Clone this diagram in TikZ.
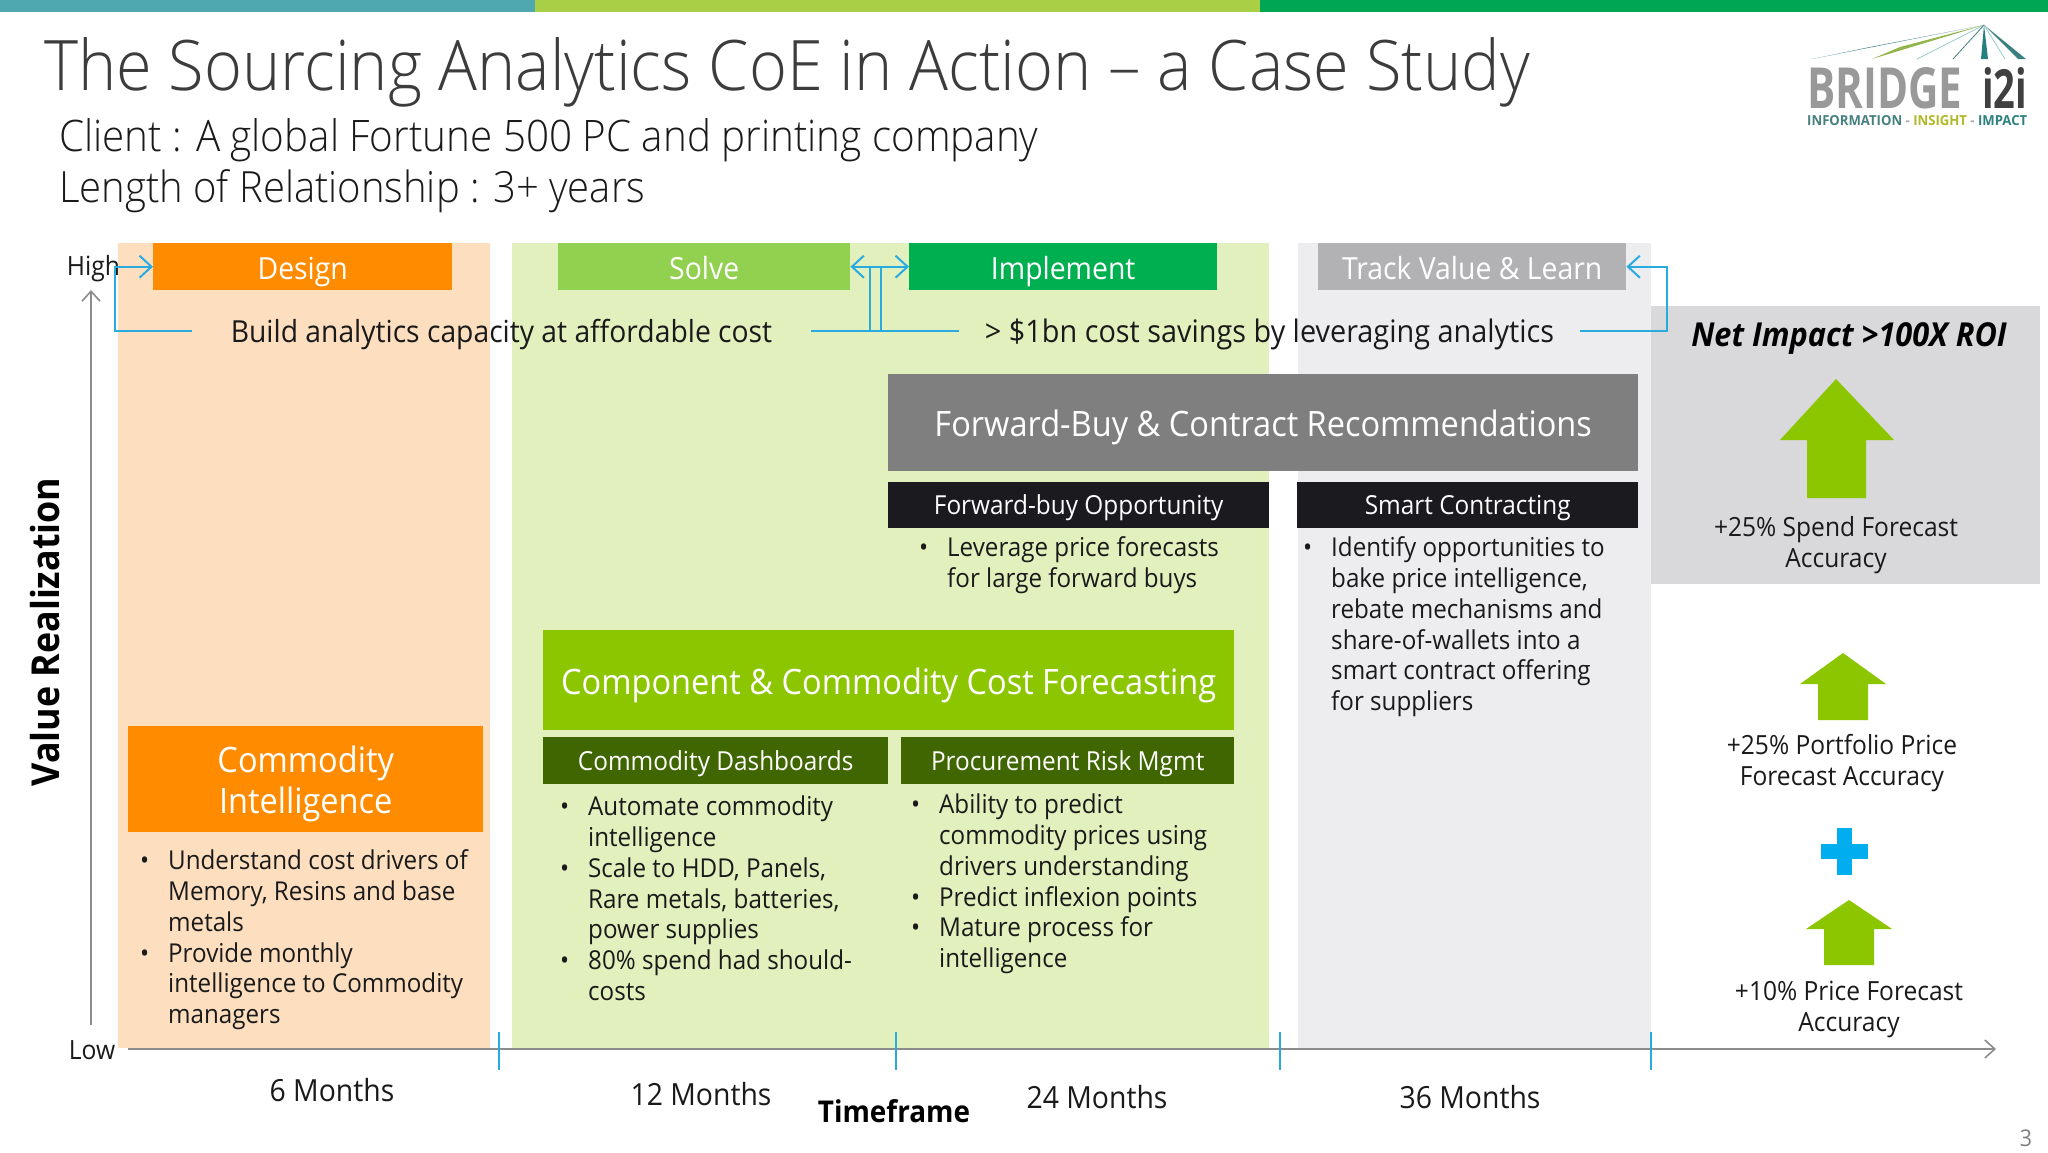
\documentclass[tikz,border=0pt]{standalone}
\usepackage{fontspec}
\usepackage{graphicx}
\usetikzlibrary{arrows.meta}
\setmainfont{Open Sans}[FakeStretch=0.93]
\newfontfamily\lightf{Open Sans Light}[FakeStretch=0.93]
\definecolor{ink}{HTML}{1A1A1A}
\definecolor{orangeB}{HTML}{FF8C00}
\definecolor{peach}{HTML}{FDDFBF}
\definecolor{paleG}{HTML}{E1F0BC}
\definecolor{paleGrey}{HTML}{EDEDF0}
\definecolor{impactGrey}{HTML}{D9D9DB}
\definecolor{solveG}{HTML}{92D050}
\definecolor{implG}{HTML}{00B050}
\definecolor{trackG}{HTML}{B2B2B4}
\definecolor{limeB}{HTML}{8CC600}
\definecolor{olive}{HTML}{3F6600}
\definecolor{midGrey}{HTML}{7F7F7F}
\definecolor{nearBlack}{HTML}{1A1A1F}
\definecolor{blueC}{HTML}{29ABE2}
\definecolor{plusC}{HTML}{00AEEF}
\definecolor{axisG}{HTML}{8C8C8C}
\newcommand{\fsz}[2]{\fontsize{#1pt}{#2pt}\selectfont}
\newcommand{\itm}{\leavevmode\llap{•\hspace{19pt}}}
\tikzset{
  x=1pt,y=-1pt,
  panel/.style={anchor=north west,inner sep=0pt},
  boxn/.style={anchor=north west,inner sep=0pt,text=white,align=center},
  hdr/.style={boxn,font=\fsz{30.5}{36},text height=30pt,text depth=4pt},
  sub/.style={boxn,font=\fsz{26.2}{31},fill=nearBlack,text height=23pt,text depth=4pt},
  big/.style={boxn,font=\fsz{35}{40.5}},
  lst/.style={anchor=north west,inner sep=0pt,align=left,text=ink,font=\fsz{26}{30.8}},
  lbl/.style={inner sep=0pt,text=ink,font=\fsz{30.5}{36}},
  res/.style={inner sep=0pt,text=ink,align=center,font=\fsz{26.4}{31}},
  conn/.style={draw=blueC,line width=2pt},
  tipc/.style={-{Straight Barb[length=12pt,width=22pt,line width=2pt]}},
  axis/.style={draw=axisG,line width=2pt,-{Straight Barb[length=10pt,width=18pt,line width=1.6pt]}},
  tick/.style={draw=blueC,line width=1.4pt},
  arrowup/.style={fill=limeB}
}
\begin{document}
\begin{tikzpicture}
\useasboundingbox[fill=white] (0,0) rectangle (2048,1152);
% top bars
\fill[fill={rgb,255:red,79;green,168;blue,176}] (0,0) rectangle (535,12);
\fill[fill={rgb,255:red,168;green,207;blue,69}] (535,0) rectangle (1260,12);
\fill[fill={rgb,255:red,0;green,166;blue,81}] (1260,0) rectangle (2048,12);
% panels
\node[panel,fill=peach,minimum width=372pt,minimum height=805pt] (pDesign) at (118,243) {};
\node[panel,fill=paleG,minimum width=757pt,minimum height=807pt] (pSolve) at (512,243) {};
\node[panel,fill=paleGrey,minimum width=353pt,minimum height=807pt] (pTrack) at (1298,243) {};
\node[panel,fill=impactGrey,minimum width=389pt,minimum height=278pt] (pImpact) at (1651,306) {};
% titles
\node[anchor=base west,inner sep=0pt,text=ink!85,font=\lightf\fsz{69.7}{80}] (title) at (44,90) {The Sourcing Analytics CoE in Action – a Case Study};
\node[anchor=base west,inner sep=0pt,text=ink,font=\lightf\fsz{43.4}{50}] (client) at (59,151) {Client : A global Fortune 500 PC and printing company};
\node[anchor=base west,inner sep=0pt,text=ink,font=\lightf\fsz{43}{50}] (length) at (59,202) {Length of Relationship : 3+ years};
% logo
\fill[teal!55!gray] (1812,59) -- (1984,25) -- (1870,47) -- cycle;
\fill[teal!40!yellow!70!gray] (1872,59) -- (1984,25) -- (1900,47) -- cycle;
\draw[teal!40,line width=.8pt] (1917,59) -- (1984,25);
\draw[teal!45!gray,line width=.8pt] (1953,59) -- (1984,25);
\fill[teal!70!gray] (1981,59) -- (1984,25) -- (1988,59) -- cycle;
\draw[teal!40,line width=.8pt] (2005,59) -- (1984,25);
\fill[teal!55!gray] (2026,59) -- (1984,25) -- (2018,59) -- cycle;
\node[anchor=north west,inner sep=0pt,text=gray!80] (logoA) at (1807,67) {\resizebox{155pt}{41pt}{\bfseries BRIDGE}};
\node[anchor=north west,inner sep=0pt,text=black!75] (logoB) at (1982,67) {\resizebox{45pt}{41pt}{\bfseries i2i}};
\node[anchor=north west,inner sep=0pt] (logoC) at (1807,115) {\resizebox{220pt}{10pt}{\bfseries\textcolor{teal!45!gray}{INFORMATION} \textcolor{gray!70}{-} \textcolor{olive!30!yellow!70!gray}{INSIGHT} \textcolor{gray!70}{-} \textcolor{teal!65!gray}{IMPACT}}};
% axes
\node[inner sep=0pt,text=ink,font=\fsz{26.5}{31}] (high) at (93.5,269) {High};
\node[inner sep=0pt,text=ink,font=\fsz{26.5}{31}] (low) at (92,1050) {Low};
\coordinate (yA) at (91,1025);
\coordinate (yB) at (91,290);
\coordinate (xA) at (128,1049);
\coordinate (xB) at (1996,1049);
\draw[axis] (yA) -- (yB);
\draw[axis] (xA) -- (xB);
\node[rotate=90,inner sep=0pt,text=black,font=\bfseries\fsz{38.5}{44}] (vr) at (45,632) {Value Realization};
\foreach \x/\n in {499/a,896/b,1280/c,1651/d}{
  \coordinate (t\n1) at (\x,1032);
  \coordinate (t\n2) at (\x,1070);
  \draw[tick] (t\n1) -- (t\n2);
}
\node[lbl] (m6) at (332,1090) {6 Months};
\node[lbl] (m12) at (701,1094) {12 Months};
\node[lbl,font=\bfseries\fsz{30}{35},text=black] (tf) at (894,1111) {Timeframe};
\node[lbl] (m24) at (1097,1097) {24 Months};
\node[lbl] (m36) at (1470,1097) {36 Months};
% headers
\node[hdr,fill=orangeB,minimum width=299pt,minimum height=47pt] (design) at (153,243) {Design};
\node[hdr,fill=solveG,minimum width=292pt,minimum height=47pt] (solve) at (558,243) {Solve};
\node[hdr,fill=implG,minimum width=308pt,minimum height=47pt] (implement) at (909,243) {Implement};
\node[hdr,fill=trackG,minimum width=308pt,minimum height=47pt] (track) at (1318,243) {Track Value \& Learn};
% captions
\node[lbl,anchor=center,inner xsep=39pt,font=\fsz{30.4}{36},text height=30pt,text depth=7pt] (build) at (501.5,331) {Build analytics capacity at affordable cost};
\node[lbl,anchor=center,inner xsep=26pt,font=\fsz{31}{36},text height=30pt,text depth=7pt] (savings) at (1269.5,331) {> \$1bn cost savings by leveraging analytics};
\draw[conn,tipc] (build.west) -- ++(-77,0) |- (design.west);
\draw[conn,tipc] (build.east) -- ++(70,0) |- (solve.east);
\draw[conn,tipc] (savings.west) -- ++(-89,0) |- (implement.west);
\draw[conn,tipc] (savings.east) -- ++(87,0) |- (track.east);
% big boxes
\node[big,fill=midGrey,minimum width=750pt,minimum height=97pt,text height=34pt,text depth=6pt] (fwd) at (888,374) {Forward-Buy \& Contract Recommendations};
\node[sub,minimum width=381pt,minimum height=46pt] (fbo) at (888,482) {Forward-buy Opportunity};
\node[sub,minimum width=341pt,minimum height=46pt] (smart) at (1297,482) {Smart Contracting};
\node[big,fill=limeB,minimum width=691pt,minimum height=100pt,text height=34pt,text depth=6pt] (comp) at (543,630) {Component \& Commodity Cost Forecasting};
\node[sub,fill=olive,minimum width=345pt,minimum height=47pt] (dash) at (543,737) {Commodity Dashboards};
\node[sub,fill=olive,minimum width=333pt,minimum height=47pt] (proc) at (901,737) {Procurement Risk Mgmt};
\node[big,fill=orangeB,minimum width=355pt,minimum height=106pt] (ci) at (128,726) {\rule{0pt}{36pt}Commodity\\Intelligence};
% lists
\node[lst] (l1) at (947,535) {\strut\itm Leverage price forecasts\\for large forward buys};
\node[lst] (l2) at (1331,535) {\strut\itm Identify opportunities to\\bake price intelligence,\\rebate mechanisms and\\share-of-wallets into a\\smart contract offering\\for suppliers};
\node[lst] (l3) at (168,848) {\strut\itm Understand cost drivers of\\Memory, Resins and base\\metals\\\itm Provide monthly\\intelligence to Commodity\\managers};
\node[lst] (l4) at (588,794) {\strut\itm Automate commodity\\intelligence\\\itm Scale to HDD, Panels,\\Rare metals, batteries,\\power supplies\\\itm 80\% spend had should-\\costs};
\node[lst] (l5) at (939,792) {\strut\itm Ability to predict\\commodity prices using\\drivers understanding\\\itm Predict inflexion points\\\itm Mature process for\\intelligence};
% impact
\node[inner sep=0pt,text=black,font=\bfseries\itshape\fsz{33}{38}] (net) at (1849,338) {Net Impact >100X ROI};
\fill[arrowup] (1836,379) -- (1894,440) -- (1866,440) -- (1866,498) -- (1807,498) -- (1807,440) -- (1780,440) -- cycle;
\node[res] (r1) at (1836,545) {+25\% Spend Forecast\\Accuracy};
\fill[arrowup] (1843,653) -- (1886,684) -- (1868,684) -- (1868,720) -- (1818,720) -- (1818,684) -- (1800,684) -- cycle;
\node[res] (r2) at (1842,763.5) {+25\% Portfolio Price\\Forecast Accuracy};
\fill[plusC] (1836.5,828) rectangle (1851.5,875);
\fill[plusC] (1820.5,844) rectangle (1867.5,859);
\fill[arrowup] (1849,900) -- (1892,929) -- (1874,929) -- (1874,965) -- (1824,965) -- (1824,929) -- (1806,929) -- cycle;
\node[res] (r3) at (1849,1009) {+10\% Price Forecast\\Accuracy};
\node[inner sep=0pt,text=gray,font=\fsz{23}{28}] (pg) at (2026,1138) {3};
\end{tikzpicture}
\end{document}
